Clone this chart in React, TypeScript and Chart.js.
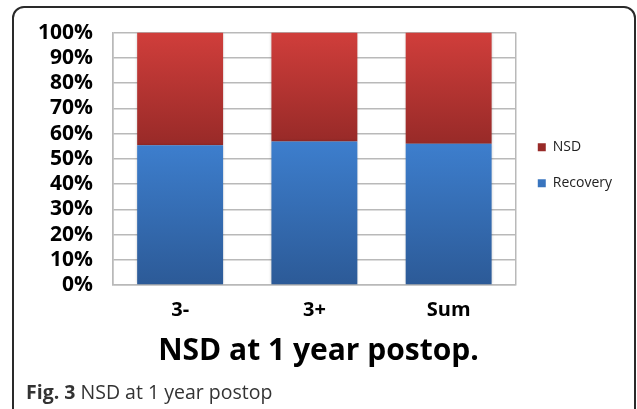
import React, { useEffect, useRef } from "react";
import { Chart, registerables } from "chart.js";

Chart.register(...registerables);

const categories = ["3-", "3+", "Sum"];
const recovery = [55.4, 56.9, 56.0];
const nsd = [44.6, 43.1, 44.0];
const yTicks = [0, 10, 20, 30, 40, 50, 60, 70, 80, 90, 100];
const titleText = "NSD at 1 year postop.";

const FONT = "'Open Sans', 'Noto Sans', sans-serif";
const GRID = "#b9b9b9";

function gradFor(c: any, lo: number, hi: number, top: string, bottom: string, solid: string) {
  if (c.type !== "data") return solid;
  const chart = c.chart;
  const { ctx, chartArea, scales } = chart;
  if (!chartArea || !scales || !scales.y) return solid;
  const y0 = scales.y.getPixelForValue(hi);
  const y1 = scales.y.getPixelForValue(lo);
  if (!isFinite(y0) || !isFinite(y1)) return solid;
  const g = ctx.createLinearGradient(0, y0, 0, y1);
  g.addColorStop(0, top);
  g.addColorStop(1, bottom);
  return g;
}

const shadowPlugin = {
  id: "barShadow",
  beforeDatasetsDraw(chart: any) {
    const ctx = chart.ctx;
    ctx.save();
    ctx.shadowColor = "rgba(0,0,0,0.28)";
    ctx.shadowBlur = 3;
    ctx.shadowOffsetX = 0;
    ctx.shadowOffsetY = 0;
  },
  afterDatasetsDraw(chart: any) {
    chart.ctx.restore();
  },
};

export default function App() {
  const ref = useRef<HTMLCanvasElement | null>(null);

  useEffect(() => {
    if (!ref.current) return;
    Chart.defaults.font.family = FONT;
    const chart = new Chart(ref.current, {
      type: "bar",
      data: {
        labels: categories,
        datasets: [
          {
            label: "Recovery",
            data: recovery,
            backgroundColor: (c: any) =>
              gradFor(c, 0, recovery[c.dataIndex] ?? 0, "#3d7ecd", "#2c5a97", "#3a72bb"),
          },
          {
            label: "NSD",
            data: nsd,
            backgroundColor: (c: any) =>
              gradFor(
                c,
                recovery[c.dataIndex] ?? 0,
                (recovery[c.dataIndex] ?? 0) + (nsd[c.dataIndex] ?? 0),
                "#d03e3b",
                "#982a28",
                "#b83432"
              ),
          },
        ],
      },
      plugins: [shadowPlugin],
      options: {
        responsive: false,
        animation: false,
        layout: { padding: { left: 15, top: 32, right: 15, bottom: 40 } },
        datasets: { bar: { categoryPercentage: 0.8, barPercentage: 0.8 } },
        scales: {
          x: {
            stacked: true,
            afterFit: (s: any) => {
              s.height = 38;
            },
            ticks: { font: { size: 20, weight: "bold" }, color: "#000", padding: 13 },
            grid: {
              drawTicks: false,
              lineWidth: 1.5,
              color: (c: any) =>
                c.index === 0 || c.index === undefined || c.index === categories.length
                  ? GRID
                  : "rgba(0,0,0,0)",
              offset: true,
            },
            border: { display: true, color: GRID, width: 1.5 },
          },
          y: {
            stacked: true,
            min: 0,
            max: 100,
            afterBuildTicks: (s: any) => {
              s.ticks = yTicks.map((v) => ({ value: v }));
            },
            afterFit: (s: any) => {
              s.width = 98;
            },
            ticks: {
              autoSkip: false,
              font: { size: 21, weight: "bold" },
              color: "#000",
              padding: 20,
              callback: (v: any) => v + "%",
            },
            grid: { drawTicks: false, lineWidth: 1.5, color: GRID },
            border: { display: true, color: GRID, width: 1.5 },
          },
        },
        plugins: {
          legend: {
            position: "right",
            fullSize: false,
            reverse: true,
            title: { display: true, text: " ", padding: 0, font: { size: 10.7 } },
            labels: {
              boxWidth: 8,
              boxHeight: 8,
              padding: 22,
              color: "#222",
              font: { size: 14, lineHeight: 0.85 },
            },
          },
          title: {
            display: true,
            text: titleText,
            position: "bottom",
            color: "#000",
            font: { size: 30, weight: "bold" },
            padding: { top: 10, bottom: 0 },
          },
          tooltip: { enabled: false },
        },
      },
    } as any);
    return () => chart.destroy();
  }, []);

  return (
    <div
      style={{
        position: "fixed",
        left: 0,
        top: 0,
        width: 637,
        height: 409,
        overflow: "hidden",
        background: "#fff",
      }}
    >
      <div
        style={{
          position: "absolute",
          left: 12,
          top: 6,
          width: 624,
          height: 440,
          border: "2px solid #2a2a2a",
          borderRadius: 12,
          boxSizing: "border-box",
        }}
      />
      <canvas
        ref={ref}
        width={637}
        height={409}
        style={{ position: "absolute", left: 0, top: 0, width: 637, height: 409 }}
      />
      <div
        style={{
          position: "absolute",
          left: 26,
          top: 380,
          fontFamily: FONT,
          fontSize: 19.5,
          color: "#333",
          whiteSpace: "nowrap",
          lineHeight: "24px",
        }}
      >
        <b>Fig. 3</b> NSD at 1 year postop
      </div>
    </div>
  );
}
